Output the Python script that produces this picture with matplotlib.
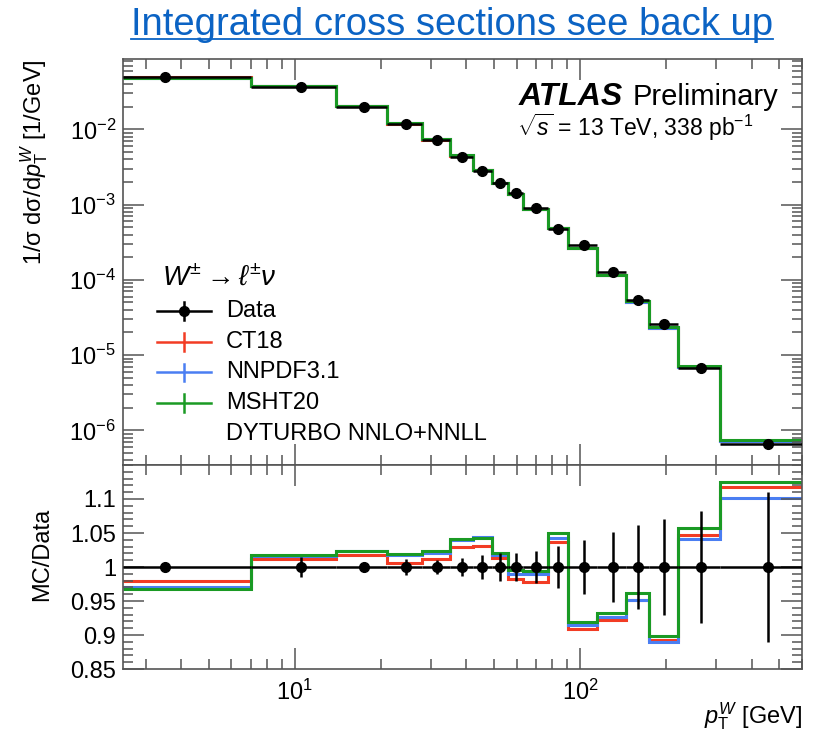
import numpy as np
import matplotlib
matplotlib.use("Agg")
import matplotlib.pyplot as plt
from matplotlib.ticker import LogLocator, MultipleLocator, FormatStrFormatter, NullFormatter
from matplotlib.lines import Line2D

plt.rcParams['font.family'] = ['Liberation Sans', 'DejaVu Sans']
plt.rcParams['mathtext.fontset'] = 'custom'
plt.rcParams['mathtext.rm'] = 'Liberation Sans'
plt.rcParams['mathtext.it'] = 'Liberation Sans:italic'
plt.rcParams['mathtext.bf'] = 'Liberation Sans:bold'

# pT(W) bin edges [GeV]
edges = np.array([0, 7, 14, 21, 28, 35, 42, 49, 56, 63, 77, 91, 115, 145, 175, 220, 310, 600])

# normalised cross section, data [1/GeV]
data = np.array([5.00e-2, 3.68e-2, 2.00e-2, 1.186e-2, 7.21e-3, 4.32e-3, 2.79e-3, 1.92e-3,
                 1.41e-3, 8.9e-4, 4.69e-4, 2.90e-4, 1.26e-4, 5.40e-5, 2.59e-5, 6.67e-6, 6.52e-7])
# relative data uncertainty
data_err = np.array([0.003, 0.015, 0.006, 0.012, 0.011, 0.0135, 0.017, 0.021, 0.021,
                     0.023, 0.031, 0.039, 0.051, 0.062, 0.070, 0.083, 0.111])

# DYTURBO predictions / data
ratio_ct18 = np.array([0.980, 1.012, 1.018, 1.006, 1.012, 1.029, 1.031, 1.013, 0.983,
                       0.978, 1.037, 0.909, 0.922, 0.951, 0.893, 1.0475, 1.118])
ratio_nnpdf = np.array([0.970, 1.016, 1.023, 1.018, 1.020, 1.040, 1.044, 1.017, 0.989,
                        0.989, 1.043, 0.914, 0.926, 0.952, 0.889, 1.041, 1.102])
ratio_msht = np.array([0.967, 1.017, 1.024, 1.0185, 1.023, 1.041, 1.043, 1.021, 0.995,
                       0.9935, 1.050, 0.919, 0.932, 0.962, 0.899, 1.057, 1.125])

preds = [("CT18", ratio_ct18, "#f23c24"),
         ("NNPDF3.1", ratio_nnpdf, "#4a7ef2"),
         ("MSHT20", ratio_msht, "#1a9a24")]

ratio_ticks = [0.85, 0.9, 0.95, 1.0, 1.05, 1.1]

xlo, xhi = 2.5, 600
W, H = 816, 731
L, R, T, M, B = 123, 802, 59, 465, 669
fs = 17

fig = plt.figure(figsize=(W / 100, H / 100), dpi=100)
ax = fig.add_axes([L / W, 1 - M / H, (R - L) / W, (M - T) / H])
rax = fig.add_axes([L / W, 1 - B / H, (R - L) / W, (B - M) / H], sharex=ax)

centers = 0.5 * (edges[:-1] + edges[1:])
e_plot = np.where(edges > xlo, edges, xlo)
xerr = [centers - e_plot[:-1], e_plot[1:] - centers]

for name, r, c in preds:
    ax.stairs(data * r, e_plot, baseline=None, color=c, lw=2.2)
    rax.stairs(r, e_plot, baseline=None, color=c, lw=2.2)

ax.errorbar(centers, data, xerr=xerr, yerr=data * data_err, fmt='o', color='k',
            ms=7, lw=1.8, capsize=0, zorder=5)
rax.errorbar(centers, np.ones_like(data), xerr=xerr, yerr=data_err, fmt='o', color='k',
             ms=7, lw=1.8, capsize=0, zorder=5)

ax.set_xscale('log')
ax.set_yscale('log')
ax.set_xlim(xlo, xhi)
ax.set_ylim(3.46e-7, 0.086)
rax.set_ylim(0.85, 1.15)

ax.yaxis.set_major_locator(LogLocator(base=10, numticks=20))
ax.yaxis.set_minor_locator(LogLocator(base=10, subs=np.arange(2, 10), numticks=20))
ax.yaxis.set_minor_formatter(NullFormatter())
ax.xaxis.set_minor_locator(LogLocator(base=10, subs=np.arange(2, 10), numticks=20))
rax.xaxis.set_minor_formatter(NullFormatter())
rax.set_yticks(ratio_ticks)
rax.yaxis.set_minor_locator(MultipleLocator(0.01))
rax.yaxis.set_major_formatter(FormatStrFormatter('%g'))
plt.setp(ax.get_xticklabels(), visible=False)

for a in (ax, rax):
    a.tick_params(which='both', direction='in', top=True, right=True, colors='#555555',
                  labelcolor='k', labelsize=fs, width=1.1)
    a.tick_params(which='major', length=15, pad=5)
    a.tick_params(which='minor', length=7)
    for s in a.spines.values():
        s.set_color('#555555')
        s.set_linewidth(1.2)
rax.tick_params(axis='x', which='major', pad=8)

ax.set_ylabel(r'1/σ dσ/d$p_{\mathrm{T}}^{W}$ [1/GeV]', fontsize=fs, loc='top')
ax.yaxis.set_label_coords(-0.107, 1.0)
rax.set_ylabel('MC/Data', fontsize=fs)
rax.yaxis.set_label_coords(-0.103, 0.564)
rax.set_xlabel(r'$p_{\mathrm{T}}^{W}$ [GeV]', fontsize=fs, loc='right')
rax.xaxis.set_label_coords(1.0, -0.155)

# ATLAS label
ax.text(0.582, 0.887, 'ATLAS', transform=ax.transAxes, fontsize=23,
        fontweight='bold', fontstyle='italic')
ax.text(0.751, 0.887, 'Preliminary', transform=ax.transAxes, fontsize=21)
ax.text(0.580, 0.811, r'$\sqrt{s}$ = 13 TeV, 338 pb$^{-1}$', transform=ax.transAxes,
        fontsize=16.5)

# legend, drawn by hand in ROOT style
ax.text(0.057, 0.443, r'$W^{\pm} \rightarrow \ell^{\pm}\nu$', transform=ax.transAxes,
        fontsize=20)
rows = [0.379, 0.304, 0.228, 0.153, 0.077]
x0, x1, xt = 0.050, 0.1296, 0.1517
ax.plot([x0, x1], [rows[0]] * 2, color='k', lw=1.8, transform=ax.transAxes)
ax.plot([0.5 * (x0 + x1)] * 2, [rows[0] - 0.022, rows[0] + 0.022], color='k', lw=1.8,
        transform=ax.transAxes)
ax.plot(0.5 * (x0 + x1), rows[0], 'o', color='k', ms=7, transform=ax.transAxes)
ax.text(xt, rows[0], 'Data', transform=ax.transAxes, fontsize=fs, va='center')
for (name, r, c), y in zip(preds, rows[1:4]):
    ax.plot([x0, x1], [y, y], color=c, lw=1.8, transform=ax.transAxes)
    ax.plot([0.5 * (x0 + x1)] * 2, [y - 0.022, y + 0.022], color=c, lw=1.8,
            transform=ax.transAxes)
    ax.text(xt, y, name, transform=ax.transAxes, fontsize=fs, va='center')
ax.text(xt, rows[4], 'DYTURBO NNLO+NNLL', transform=ax.transAxes, fontsize=fs, va='center')

# slide heading with hyperlink underline
title = fig.text(452 / W, 1 - 35 / H, 'Integrated cross sections see back up', ha='center',
                 va='baseline', fontsize=27.5, color='#0b63c4',
                 family=['Liberation Sans Narrow', 'Liberation Sans'])
fig.canvas.draw()
bb = title.get_window_extent()
fig.add_artist(Line2D([bb.x0 / W, bb.x1 / W], [1 - 38.5 / H] * 2, color='#0b63c4', lw=1.3))

fig.savefig('out.png', dpi=100)
